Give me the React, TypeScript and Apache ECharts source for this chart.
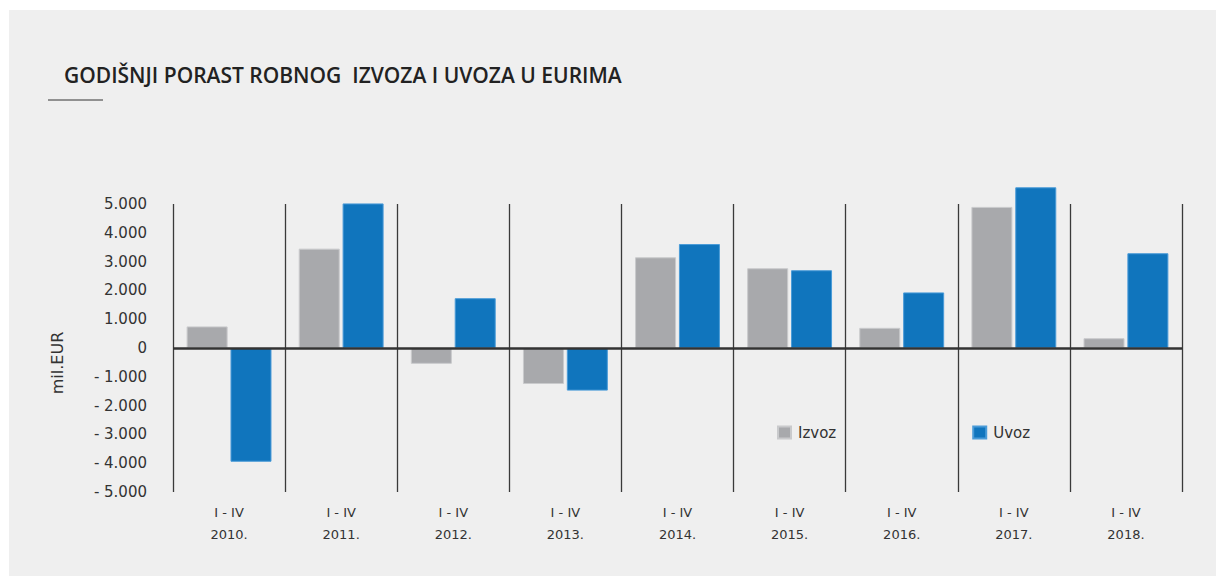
import React, { useEffect, useRef } from "react";
import * as echarts from "echarts";

const categories = ["2010.", "2011.", "2012.", "2013.", "2014.", "2015.", "2016.", "2017.", "2018."];
const periodLabel = "I - IV";
const izvoz = [750, 3450, -550, -1250, 3150, 2770, 700, 4900, 340];
const uvoz = [-3950, 5020, 1730, -1480, 3610, 2700, 1930, 5580, 3290];
const seriesNames = ["Izvoz", "Uvoz"];
const titleText = "GODIŠNJI PORAST ROBNOG  IZVOZA I UVOZA U EURIMA";
const yAxisName = "mil.EUR";

const FONT = "'Open Sans', 'Noto Sans', sans-serif";
const SMALL = "'DejaVu Sans', 'Open Sans', sans-serif";

function fmtY(v: number): string {
  if (v === 0) return "0";
  const abs = Math.abs(v);
  const s = abs >= 1000 ? `${Math.floor(abs / 1000)}.${String(abs % 1000).padStart(3, "0")}` : String(abs);
  return v < 0 ? `- ${s}` : s;
}

export default function App() {
  const ref = useRef<HTMLDivElement>(null);
  useEffect(() => {
    if (!ref.current) return;
    const chart = echarts.init(ref.current, null, { renderer: "svg" });
    chart.setOption({
      animation: false,
      backgroundColor: "#ffffff",
      textStyle: { fontFamily: FONT },
      graphic: [
        { type: "rect", z: -10, shape: { x: 9, y: 10, width: 1207, height: 566 }, style: { fill: "#efefef" } },
        {
          type: "text",
          x: 64,
          y: 75,
          style: { text: titleText, fontSize: 21, fontWeight: 600, fill: "#222222", fontFamily: FONT, verticalAlign: "middle" },
        },
        { type: "line", shape: { x1: 48, y1: 100, x2: 103, y2: 100 }, style: { stroke: "#333333", lineWidth: 1 } },
        {
          type: "text",
          x: 57,
          y: 363,
          rotation: Math.PI / 2,
          style: { text: yAxisName, fontSize: 16, fill: "#333333", fontFamily: SMALL, align: "center", verticalAlign: "middle" },
        },
      ],
      legend: {
        left: 772,
        top: 420,
        itemWidth: 13,
        itemHeight: 12,
        itemGap: 136,
        icon: "rect",
        textStyle: { fontSize: 15, color: "#333333", fontFamily: SMALL, padding: [0, 0, 0, 2] },
        data: seriesNames,
      },
      grid: { left: 173, right: 34, top: 204, bottom: 86 },
      xAxis: {
        type: "category",
        data: categories,
        axisLine: { show: false, onZero: false },
        axisTick: { show: false },
        splitLine: { show: true, interval: 0, lineStyle: { color: "#3a3a3a", width: 1.3 } },
        axisLabel: {
          interval: 0,
          margin: 9,
          fontSize: 13,
          lineHeight: 22,
          color: "#333333",
          fontFamily: SMALL,
          formatter: (v: string) => `${periodLabel}\n${v}`,
        },
      },
      yAxis: {
        type: "value",
        min: -5000,
        max: 5000,
        interval: 1000,
        axisLine: { show: false },
        axisTick: { show: false },
        splitLine: { show: false },
        axisLabel: { margin: 26, fontSize: 15, color: "#333333", fontFamily: SMALL, formatter: fmtY },
      },
      series: [
        {
          name: seriesNames[0],
          type: "bar",
          data: izvoz,
          barWidth: 41,
          barGap: "7%",
          clip: false,
          itemStyle: { color: "#a8a9ac", borderColor: "#c9cacc", borderWidth: 1 },
          markLine: {
            silent: true,
            symbol: "none",
            label: { show: false },
            lineStyle: { color: "#333333", width: 2.5, type: "solid" },
            data: [{ yAxis: 0 }],
            z: 10,
          },
        },
        {
          name: seriesNames[1],
          type: "bar",
          data: uvoz,
          barWidth: 41,
          clip: false,
          itemStyle: { color: "#1075bd", borderColor: "#4a9bd8", borderWidth: 1 },
        },
      ],
    });
    return () => chart.dispose();
  }, []);
  return (
    <div style={{ position: "fixed", left: 0, top: 0, width: 1216, height: 578 }}>
      <div ref={ref} style={{ width: 1216, height: 578 }} />
    </div>
  );
}
